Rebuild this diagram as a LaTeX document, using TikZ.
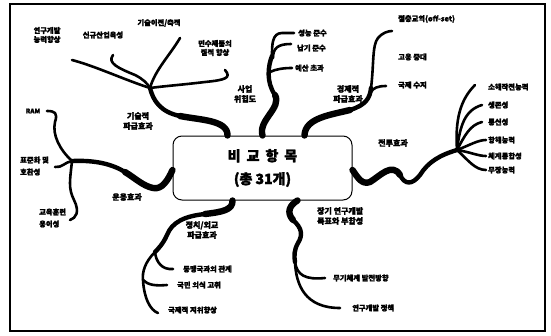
\documentclass[tikz,border=0pt]{standalone}
\usepackage{fontspec}
\newfontfamily\kr{Noto Sans CJK KR}[FakeBold=2.2]
\begin{document}
\begin{tikzpicture}[x=1pt,y=-1pt,
  root/.style={line width=6.4pt,line cap=round,line join=round},
  trunk/.style={line width=4.4pt,line cap=round,line join=round},
  twig/.style={line width=2.6pt,line cap=round,line join=round},
  lbl/.style={font=\kr\bfseries\fontsize{7.3}{9}\selectfont,inner sep=0pt,anchor=west},
  head/.style={font=\kr\bfseries\fontsize{8}{10}\selectfont,inner sep=0pt,align=center}]
\useasboundingbox (0,0) rectangle (551,335);
\draw[line width=1.8pt] (10,4) rectangle (545,331);

% centre
\node[draw,line width=1pt,rounded corners=9pt,minimum width=179pt,minimum height=64pt,
  align=center,font=\kr\bfseries\fontsize{14}{23}\selectfont] (center) at (262.5,168)
  {비\hspace{6pt}교\hspace{6pt}항\hspace{6pt}목\\(총 31개)};

% ---------- technological spillover
\coordinate (tj) at (150,88);
\coordinate (tm) at (180,116);
\draw[root] ([xshift=-35pt]center.north) .. controls (228,120) and (200,120) .. (tm);
\draw[trunk] (tm) .. controls (160,112) and (153,100) .. (tj);
\coordinate (t1) at (72,60);
\coordinate (t2) at (113,55);
\coordinate (t3) at (180,38);
\coordinate (t4) at (225,70);
\draw[twig] (tj) .. controls (125,80) and (95,66) .. (t1);
\draw[twig] (t2) .. controls (107,63) and (118,68) .. (135,75) .. controls (143,79) and (147,83) .. (tj);
\draw[twig] (t3) .. controls (170,55) and (155,70) .. (tj);
\draw[twig] (t4) .. controls (232,78) and (225,80) .. (205,82) .. controls (180,85) and (165,86) .. (tj);
\node[lbl,anchor=center,align=center] (lt1) at (47,35) {연구개발\\능력향상};
\node[lbl,anchor=center] (lt2) at (103,35) {신규산업육성};
\node[lbl,anchor=center] (lt3) at (159,23) {기술이전/축적};
\node[lbl,anchor=center,align=center] (lt4) at (215,48) {민수제품의\\질적 향상};
\node[head] (ht) at (138,121) {기술적\\파급효과};

% ---------- project risk
\coordinate (pj) at (272,56);
\coordinate (pm) at (275,95);
\draw[root] (center.north) .. controls (258,120) and (282,108) .. (pm);
\draw[trunk] (pm) .. controls (266,82) and (268,66) .. (pj);
\coordinate (p1) at (294,33);
\coordinate (p2) at (291,44);
\coordinate (p3) at (292,68);
\draw[twig] (pj) .. controls (272,45) and (272,33) .. (282,33) -- (p1);
\draw[twig] (273,58) .. controls (273,48) and (278,44) .. (p2);
\draw[twig] (270,72) .. controls (276,69) and (284,68) .. (p3);
\node[lbl] (lp1) at (298,33) {성능 준수};
\node[lbl] (lp2) at (297,48) {납기 준수};
\node[lbl] (lp3) at (295,68) {예산 초과};
\node[head] (hp) at (245,94) {사업\\위험도};

% ---------- economic spillover
\coordinate (ej) at (371,88);
\coordinate (em) at (350,110);
\draw[root] ([xshift=42pt]center.north) .. controls (305,118) and (330,115) .. (em);
\draw[trunk] (em) .. controls (366,105) and (370,98) .. (ej);
\coordinate (e1) at (392,31);
\coordinate (e3) at (386,86);
\draw[twig] (ej) .. controls (374,65) and (372,45) .. (378,38) .. controls (382,33) and (388,31) .. (e1);
\draw[twig] (371,92) .. controls (373,88) and (378,86) .. (e3);
\node[lbl] (le1) at (398,19) {절충교역(off-set)};
\node[lbl] (le2) at (398,57) {고용 증대};
\node[lbl] (le3) at (398,85) {국제 수지};
\node[head] (he) at (348,94) {경제적\\파급효과};

% ---------- combat effectiveness
\coordinate (cj) at (457,150);
\coordinate (cm) at (400,175);
\draw[root] ([yshift=-2pt]center.east) .. controls (358,178) and (362,185) .. (370,182)
  .. controls (380,176) and (392,162) .. (cm);
\draw[trunk] (cm) .. controls (405,185) and (412,185) .. (420,175)
  .. controls (428,162) and (440,155) .. (cj);
\coordinate (c1) at (475,85);
\coordinate (c2) at (482,105);
\coordinate (c3) at (482,122);
\coordinate (c4) at (486,140);
\coordinate (c5) at (486,156);
\coordinate (c6) at (486,170);
\draw[twig] (cj) .. controls (455,120) and (460,100) .. (c1);
\draw[twig] (cj) .. controls (460,125) and (465,110) .. (c2);
\draw[twig] (cj) .. controls (465,135) and (470,125) .. (c3);
\draw[twig] (cj) .. controls (470,145) and (478,140) .. (c4);
\draw[twig] (cj) .. controls (470,152) and (478,156) .. (c5);
\draw[twig] (cj) .. controls (468,160) and (475,170) .. (c6);
\node[lbl] (lc1) at (488,87) {소해작전능력};
\node[lbl] (lc2) at (488,105) {생존성};
\node[lbl] (lc3) at (488,122) {통신성};
\node[lbl] (lc4) at (488,140) {항해능력};
\node[lbl] (lc5) at (488,156) {체계통합성};
\node[lbl] (lc6) at (488,170) {무장능력};
\node[head] (hc) at (393,143) {전투효과};

% ---------- operational effectiveness
\coordinate (oj) at (72,161);
\coordinate (om) at (125,172);
\draw[root] ([yshift=-2pt]center.west) .. controls (168,180) and (162,190) .. (153,188)
  .. controls (143,186) and (135,178) .. (om);
\draw[trunk] (om) .. controls (112,164) and (95,160) .. (oj);
\coordinate (o1) at (47,111);
\coordinate (o2) at (55,167);
\coordinate (o3) at (70,220);
\draw[twig] (oj) .. controls (60,150) and (52,135) .. (55,122) .. controls (58,113) and (55,111) .. (o1);
\draw[twig] (oj) .. controls (65,162) and (62,168) .. (o2);
\draw[twig] (oj) .. controls (70,180) and (68,188) .. (74,200) .. controls (80,212) and (76,218) .. (o3);
\node[font=\kr\bfseries\fontsize{6.5}{8}\selectfont,inner sep=0pt] (lo1) at (33,111) {RAM};
\node[lbl] (lo2) at (20,160) {표준화 및};
\node[lbl] (lo2b) at (20,172) {호환성};
\node[lbl] (lo3) at (39,212) {교육훈련};
\node[lbl] (lo3b) at (39,224) {용이성};
\node[head] (ho) at (127,197) {운용효과};

% ---------- political / diplomatic
\coordinate (plj) at (155,252);
\coordinate (qq) at (205,214);
\draw[root] ([xshift=-30pt]center.south) .. controls (233,210) and (222,212) .. (qq);
\draw[trunk] (qq) .. controls (185,216) and (172,222) .. (167,235) .. controls (163,244) and (158,249) .. (plj);
\coordinate (q1) at (173,269);
\coordinate (q2) at (167,285);
\coordinate (q3) at (158,313);
\coordinate (qm) at (143,280);
\draw[twig] (plj) .. controls (156,262) and (162,270) .. (q1);
\draw[twig] (plj) .. controls (145,262) and (142,272) .. (qm) .. controls (144,298) and (150,310) .. (q3);
\draw[twig] (qm) .. controls (148,285) and (155,286) .. (q2);
\node[lbl] (lq1) at (183,269) {동맹국과의 관계};
\node[lbl] (lq2) at (177,285) {국민 의식 고취};
\node[lbl] (lq3) at (168,310) {국제적 지위향상};
\node[head] (hq) at (202,230) {정치/외교\\파급효과};

% ---------- long-term R&D
\coordinate (lj) at (295,262);
\coordinate (lm) at (293,220);
\draw[root] ([xshift=35pt]center.south) .. controls (290,205) and (286,212) .. (lm);
\draw[trunk] (lm) .. controls (302,228) and (303,235) .. (298,243) .. controls (294,250) and (294,256) .. (lj);
\coordinate (r1) at (325,278);
\coordinate (r2) at (340,308);
\draw[twig] (lj) .. controls (297,275) and (305,280) .. (r1);
\draw[twig] (lj) .. controls (296,285) and (305,308) .. (r2);
\node[lbl] (lr1) at (333,278) {무기체계 발전방향};
\node[lbl] (lr2) at (352,308) {연구개발 정책};
\node[head,align=left,anchor=west] (hr) at (317,216) {장기 연구개발\\목표와 부합성};
\end{tikzpicture}
\end{document}
